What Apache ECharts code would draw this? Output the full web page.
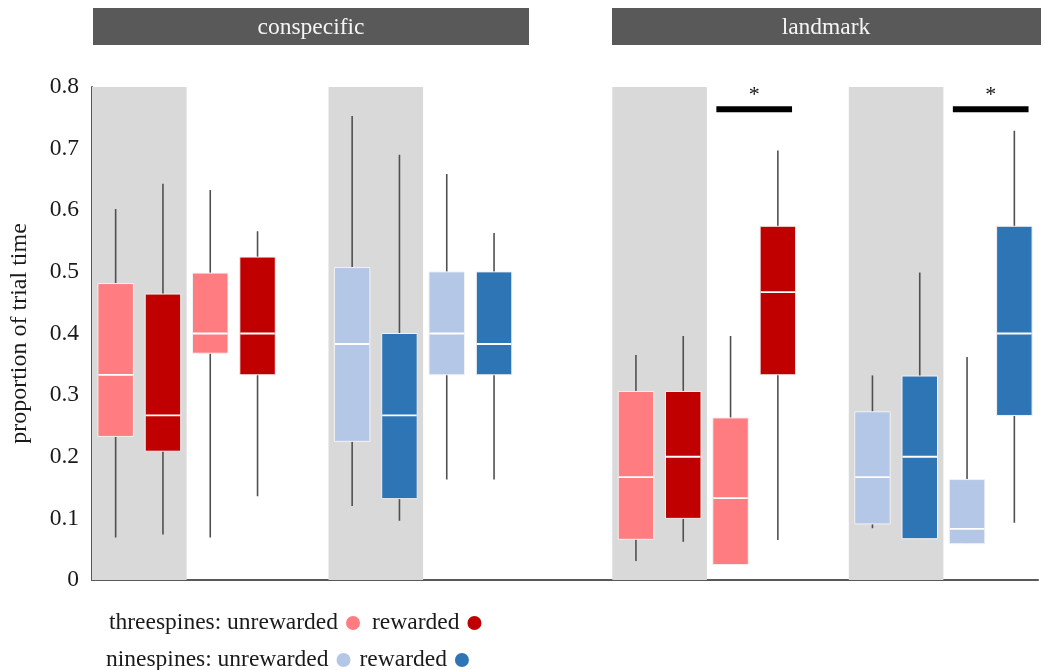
<!DOCTYPE html>
<html>
<head>
<meta charset="utf-8">
<script src="https://cdn.jsdelivr.net/npm/echarts@6/dist/echarts.min.js"></script>
<style>html,body{margin:0;padding:0;background:#fff;}#chart{width:1045px;height:670px;}</style>
</head>
<body>
<div id="chart"></div>
<script>
// ---- data ----
const facets = ['conspecific', 'landmark'];
const yTicks = [0, 0.1, 0.2, 0.3, 0.4, 0.5, 0.6, 0.7, 0.8];
const seriesNames = ['threespines: unrewarded', 'threespines: rewarded', 'ninespines: unrewarded', 'ninespines: rewarded'];

// slot positions along the x axis (conspecific grey, conspecific white, landmark grey, landmark white)
const xThreeUnrewarded = [0, 2, 11, 13];
const xThreeRewarded = [1, 3, 12, 14];
const xNineUnrewarded = [5, 7, 16, 18];
const xNineRewarded = [6, 8, 17, 19];

// [low whisker, Q1, median, Q3, high whisker]
const threeUnrewarded = [
  [0.069, 0.233, 0.333, 0.481, 0.602],
  [0.069, 0.368, 0.400, 0.498, 0.633],
  [0.031, 0.066, 0.167, 0.306, 0.365],
  [0.025, 0.025, 0.133, 0.263, 0.396]
];
const threeRewarded = [
  [0.074, 0.209, 0.267, 0.464, 0.643],
  [0.136, 0.333, 0.400, 0.524, 0.566],
  [0.062, 0.100, 0.200, 0.306, 0.396],
  [0.065, 0.333, 0.467, 0.574, 0.697]
];
const nineUnrewarded = [
  [0.120, 0.225, 0.383, 0.507, 0.753],
  [0.163, 0.333, 0.400, 0.500, 0.659],
  [0.084, 0.091, 0.167, 0.273, 0.332],
  [0.059, 0.059, 0.083, 0.163, 0.362]
];
const nineRewarded = [
  [0.096, 0.132, 0.267, 0.400, 0.690],
  [0.163, 0.333, 0.383, 0.500, 0.563],
  [0.067, 0.067, 0.200, 0.331, 0.499],
  [0.093, 0.267, 0.400, 0.574, 0.729]
];

// grey shaded bands [from, to] in slot units
const greyBands = [[-0.5, 1.5], [4.5, 6.5], [10.5, 12.5], [15.5, 17.5]];
// significance bars: centre slot, height
const sigBarX = [13.5, 18.5];
const sigBarY = 0.764;
const sigLabel = '*';

// ---- styling ----
const colors = ['#FF7C80', '#C00000', '#B4C7E7', '#2E75B6'];
const serif = 'Liberation Serif';
const fs = 23.5;

function boxData(xs, stats) {
  return xs.map((x, i) => [x].concat(stats[i]));
}

function renderBox(color) {
  return function (params, api) {
    const x = api.value(0);
    const low = api.coord([x, api.value(1)]);
    const q1 = api.coord([x, api.value(2)]);
    const med = api.coord([x, api.value(3)]);
    const q3 = api.coord([x, api.value(4)]);
    const high = api.coord([x, api.value(5)]);
    const w = api.size([1, 0])[0] * 0.75;
    const cx = low[0];
    return {
      type: 'group',
      children: [
        { type: 'line', shape: { x1: cx, y1: high[1], x2: cx, y2: low[1] }, style: { stroke: '#505050', lineWidth: 1.6 } },
        { type: 'rect', shape: { x: cx - w / 2, y: q3[1], width: w, height: q1[1] - q3[1] }, style: { fill: color, stroke: '#f2f2f2', lineWidth: 1 } },
        { type: 'line', shape: { x1: cx - w / 2 + 0.5, y1: med[1], x2: cx + w / 2 - 0.5, y2: med[1] }, style: { stroke: '#ffffff', lineWidth: 1.8 } }
      ]
    };
  };
}

const boxSets = [
  boxData(xThreeUnrewarded, threeUnrewarded),
  boxData(xThreeRewarded, threeRewarded),
  boxData(xNineUnrewarded, nineUnrewarded),
  boxData(xNineRewarded, nineRewarded)
];

const series = [
  {
    type: 'line',
    name: 'bands',
    silent: true,
    z: 1,
    data: [],
    markArea: {
      silent: true,
      itemStyle: { color: '#D9D9D9' },
      label: { show: false },
      data: greyBands.map(b => [{ coord: [b[0], yTicks[0]] }, { coord: [b[1], yTicks[yTicks.length - 1]] }])
    }
  }
];
boxSets.forEach((d, i) => {
  series.push({
    type: 'custom',
    name: seriesNames[i],
    z: 3,
    itemStyle: { color: colors[i] },
    data: d,
    encode: { x: 0, y: [1, 2, 3, 4, 5] },
    renderItem: renderBox(colors[i])
  });
});
series.push({
  type: 'custom',
  name: 'significance',
  z: 4,
  silent: true,
  data: sigBarX.map(x => [x, sigBarY]),
  encode: { x: 0, y: 1 },
  renderItem: function (params, api) {
    const x = api.value(0), y = api.value(1);
    const a = api.coord([x - 0.8, y]);
    const b = api.coord([x + 0.8, y]);
    return {
      type: 'group',
      children: [
        { type: 'line', shape: { x1: a[0], y1: a[1], x2: b[0], y2: b[1] }, style: { stroke: '#000', lineWidth: 6 } },
        { type: 'text', style: { text: sigLabel, x: (a[0] + b[0]) / 2, y: a[1] - 3, textAlign: 'center', textVerticalAlign: 'bottom', font: '22px "' + serif + '"', fill: '#111' } }
      ]
    };
  }
});

const legendText = { fontFamily: serif, fontSize: 23.5, color: '#1a1a1a', padding: [0, 3, 0, 0] };
const legendFormatter = name => name.indexOf(': rewarded') >= 0 ? 'rewarded' : name;

const option = {
  animation: false,
  backgroundColor: '#fff',
  grid: { left: 92, right: 7, top: 87, bottom: 90 },
  xAxis: {
    type: 'value', min: -0.5, max: 19.5,
    axisLine: { show: true, onZero: false, lineStyle: { color: '#595959', width: 2 } },
    axisTick: { show: false }, axisLabel: { show: false }, splitLine: { show: false }
  },
  yAxis: {
    type: 'value', min: yTicks[0], max: yTicks[yTicks.length - 1], interval: 0.1,
    name: 'proportion of trial time', nameLocation: 'middle', nameGap: 60,
    nameTextStyle: { fontFamily: serif, fontSize: 24, color: '#1a1a1a' },
    axisLine: { show: true, onZero: false, lineStyle: { color: '#595959', width: 2 } },
    axisTick: { show: false }, splitLine: { show: false },
    axisLabel: { fontFamily: serif, fontSize: fs, color: '#1a1a1a', margin: 13, formatter: v => String(Math.round(v * 10) / 10) }
  },
  legend: [
    { data: seriesNames.slice(0, 2), left: 104, top: 606, align: 'right', icon: 'circle', itemWidth: 14, itemHeight: 14, itemGap: 12, formatter: legendFormatter, textStyle: legendText },
    { data: seriesNames.slice(2, 4), left: 101, top: 643, align: 'right', icon: 'circle', itemWidth: 14, itemHeight: 14, itemGap: 9, formatter: legendFormatter, textStyle: legendText }
  ],
  graphic: [
    { type: 'rect', x: 93, y: 8, shape: { width: 436, height: 37 }, style: { fill: '#595959' }, z: 10 },
    { type: 'text', x: 311, y: 28, style: { text: facets[0], align: 'center', verticalAlign: 'middle', textAlign: 'center', textVerticalAlign: 'middle', font: fs + 'px "' + serif + '"', fill: '#f5f5f5' }, z: 11 },
    { type: 'rect', x: 612, y: 8, shape: { width: 429, height: 37 }, style: { fill: '#595959' }, z: 10 },
    { type: 'text', x: 826, y: 28, style: { text: facets[1], align: 'center', verticalAlign: 'middle', textAlign: 'center', textVerticalAlign: 'middle', font: fs + 'px "' + serif + '"', fill: '#f5f5f5' }, z: 11 }
  ],
  series: series
};

const chart = echarts.init(document.getElementById('chart'));
chart.setOption(option);
</script>
</body>
</html>
